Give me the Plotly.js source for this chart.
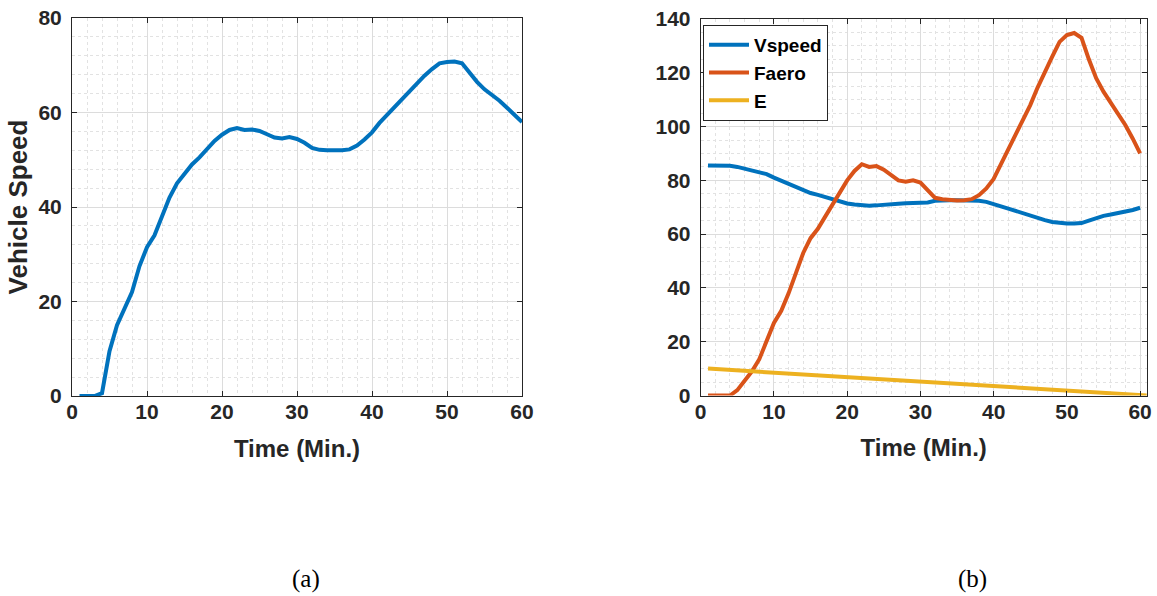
<!DOCTYPE html>
<html>
<head>
<meta charset="utf-8">
<script src="https://cdn.plot.ly/plotly-3.0.1.min.js"></script>
<style>html,body{margin:0;padding:0;background:#fff;}#chart{width:1157px;height:596px;}</style>
</head>
<body>
<div id="chart"></div>
<script>
// ---- data ----
const timeMin = [1,2,3,4,5,6,7,8,9,10,11,12,13,14,15,16,17,18,19,20,21,22,23,24,25,26,27,28,29,30,
                 31,32,33,34,35,36,37,38,39,40,41,42,43,44,45,46,47,48,49,50,51,52,53,54,55,56,57,58,59,60];
const vehicleSpeed = [0,0,0,0.6,9.5,15,18.3,22,27.5,31.5,34,38,42,45,47,49,50.5,52.3,54,55.3,
                      56.3,56.7,56.3,56.4,56.1,55.4,54.7,54.5,54.8,54.4,53.6,52.5,52.1,52.0,51.9,52.0,52.2,53,54.3,55.8,
                      57.8,59.5,61.2,62.8,64.5,66.3,67.8,69.2,70.4,70.7,70.8,70.4,68.3,66.5,64.9,63.7,62.5,61,59.5,58];
const vspeed = [85.5,85.5,85.5,85.4,85,84.3,83.8,83.2,82.3,81,79.8,79,77.8,76.5,75.3,74.6,73.8,72.8,72,71.4,
                71,70.7,70.6,70.7,70.8,71,71.3,71.5,71.5,71.5,71.8,72.4,72.6,72.6,72.6,72.6,72.5,72.4,72,71.3,
                70.3,69.5,68.6,67.8,67,66,65.2,64.5,64.1,64,64,64.1,65,66,66.8,67.3,67.8,68.3,69,69.8];
const faero = [0,0,0,0,2,5.5,9,13.5,20,27,31.5,38,45.5,53,58.5,62,66.5,71,75.5,80,
               83.5,86,85,85.3,84,82,80,79.5,80,79.2,76.5,73.5,73,72.7,72.5,72.6,73,74.5,77,80.5,
               86,91,97,102.5,108,114.5,120.5,126,131.5,134,134.8,133,125,118,113,109,105,100.5,95.5,90];
const eTime = [1,10,20,30,40,50,61];
const eValues = [10,8.5,6.8,5.2,3.5,1.8,0];
const xTitle = 'Time (Min.)';
const yTitleLeft = 'Vehicle Speed';
const panelLabels = ['(a)','(b)'];

// ---- styles ----
const W = 1157, H = 596;
const C1 = '#0072BD', C2 = '#D95319', C3 = '#EDB120';
const axisColor = '#262626';
const fam = 'Liberation Sans, Arial, sans-serif';
const tickFont = {family:fam, size:21, color:axisColor, weight:'bold'};
const xTitleFont = {family:fam, size:24, color:axisColor, weight:'bold'};
const yTitleFont = {family:fam, size:26, color:axisColor, weight:'bold'};

function xax(domain, range, extra) {
  return Object.assign({
    domain: domain, range: range, dtick: 10, tick0: 0,
    ticks: 'inside', ticklen: 5, tickwidth: 1, tickcolor: axisColor,
    showline: true, linecolor: axisColor, linewidth: 1, mirror: 'ticks',
    showgrid: true, gridcolor: '#dcdcdc', gridwidth: 1,
    minor: {dtick: 2, showgrid: true, gridcolor: '#e2e2e2', griddash: 'dot', gridwidth: 1, ticks: ''},
    zeroline: false, tickfont: tickFont, fixedrange: true, ticklabelstandoff: -3,
    title: {text: xTitle, font: xTitleFont, standoff: 17}
  }, extra || {});
}
function yax(domain, range, minorStep, extra) {
  return Object.assign({
    domain: domain, range: range, dtick: 20, tick0: 0,
    ticks: 'inside', ticklen: 5, tickwidth: 1, tickcolor: axisColor,
    showline: true, linecolor: axisColor, linewidth: 1, mirror: 'ticks',
    showgrid: true, gridcolor: '#dcdcdc', gridwidth: 1,
    minor: {dtick: minorStep, showgrid: true, gridcolor: '#e2e2e2', griddash: 'dot', gridwidth: 1, ticks: ''},
    zeroline: false, tickfont: tickFont, fixedrange: true, ticklabelstandoff: 5
  }, extra || {});
}

const yDom = [(H-396)/H, (H-18)/H];
const yDom2 = [(H-395.5)/H, (H-19)/H];

const traces = [
  {x: timeMin, y: vehicleSpeed, type:'scatter', mode:'lines', line:{color:C1, width:4}, xaxis:'x', yaxis:'y', showlegend:false},
  {x: timeMin, y: vspeed, type:'scatter', mode:'lines', name:'Vspeed', line:{color:C1, width:4}, xaxis:'x2', yaxis:'y2'},
  {x: timeMin, y: faero, type:'scatter', mode:'lines', name:'Faero', line:{color:C2, width:4}, xaxis:'x2', yaxis:'y2'},
  {x: eTime, y: eValues, type:'scatter', mode:'lines', name:'E', line:{color:C3, width:4}, xaxis:'x2', yaxis:'y2'}
];

const layout = {
  width: W, height: H,
  margin: {l:0, r:0, t:0, b:0, pad:0},
  paper_bgcolor: '#ffffff', plot_bgcolor: '#ffffff',
  xaxis: xax([72/W, 522/W], [0, 60], {anchor:'y'}),
  yaxis: yax(yDom, [0, 80], 4, {anchor:'x', title:{text: yTitleLeft, font: yTitleFont, standoff: 3}}),
  xaxis2: xax([700.7/W, 1146.7/W], [0, 60.9], {anchor:'y2'}),
  yaxis2: yax(yDom2, [0, 140], 5, {anchor:'x2'}),
  showlegend: true,
  legend: {
    x: 703/W, y: (H-25)/H, xanchor:'left', yanchor:'top', xref:'paper', yref:'paper',
    bgcolor:'#ffffff', bordercolor: axisColor, borderwidth: 1,
    font: {family:fam, size:19, color:'#000000', weight:'bold'},
    tracegroupgap: 0, itemwidth: 40
  },
  annotations: [
    {text: panelLabels[0], x: 306/W, y: (H-579)/H, xref:'paper', yref:'paper', xanchor:'center', yanchor:'middle', showarrow:false,
     font:{family:'Liberation Serif, Times New Roman, serif', size:25, color:'#000'}},
    {text: panelLabels[1], x: 972/W, y: (H-579)/H, xref:'paper', yref:'paper', xanchor:'center', yanchor:'middle', showarrow:false,
     font:{family:'Liberation Serif, Times New Roman, serif', size:25, color:'#000'}}
  ]
};

Plotly.newPlot('chart', traces, layout, {staticPlot: true, displayModeBar: false});
</script>
</body>
</html>
